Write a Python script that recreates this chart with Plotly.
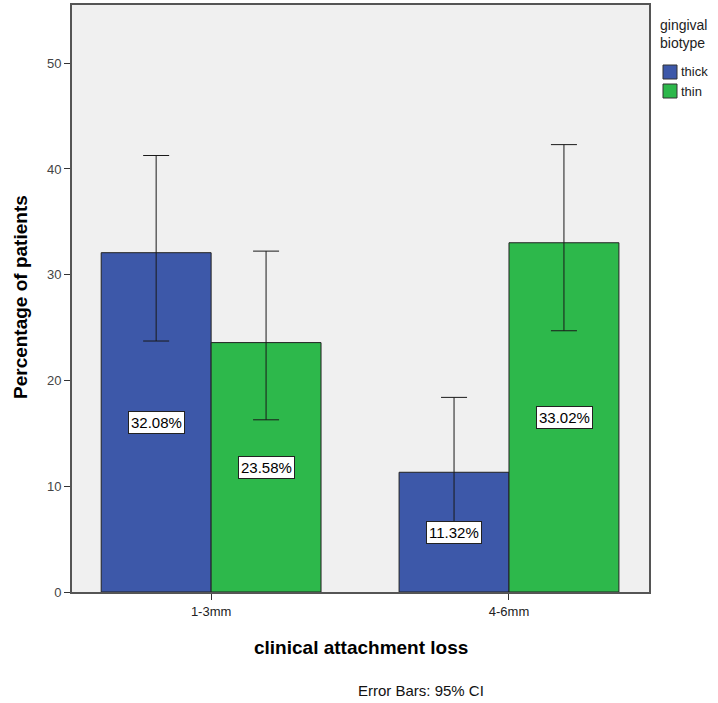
import plotly.graph_objects as go

categories = ["1-3mm", "4-6mm"]
series_names = ["thick", "thin"]
thick_vals = [32.08, 11.32]
thin_vals = [23.58, 33.02]
thick_lo = [23.73, 6.30]
thick_hi = [41.27, 18.40]
thin_lo = [16.28, 24.70]
thin_hi = [32.23, 42.30]
y_ticks = [0, 10, 20, 30, 40, 50]
legend_title = "gingival<br>biotype"

BLUE = "#3D58A9"
GREEN = "#2DB84B"
SANS = "Liberation Sans, Arial, sans-serif"

fig = go.Figure()

def add_series(name, vals, lo, hi, color):
    fig.add_trace(go.Bar(
        x=[0, 1], y=vals, name=name, showlegend=False,
        marker=dict(color=color, line=dict(color="#222222", width=1)),
        error_y=dict(type="data", symmetric=False,
                     array=[h - v for h, v in zip(hi, vals)],
                     arrayminus=[v - l for l, v in zip(lo, vals)],
                     color="#1a1a1a", thickness=1, width=13),
    ))

add_series(series_names[0], thick_vals, thick_lo, thick_hi, BLUE)
add_series(series_names[1], thin_vals, thin_lo, thin_hi, GREEN)

# value labels
offsets = [-0.185, 0.185]
for si, vals in enumerate([thick_vals, thin_vals]):
    for ci, v in enumerate(vals):
        fig.add_annotation(x=ci + offsets[si], y=v / 2, xref="x", yref="y",
                           text=f"{v:.2f}%", showarrow=False,
                           font=dict(family=SANS, size=15, color="black"),
                           bgcolor="white", bordercolor="#222222", borderwidth=1,
                           borderpad=2)

PL, PR, PT, PB = 72, 649, 5, 592
W, H = 718, 703

def px_x(px):
    return (px - PL) / (PR - PL)

def px_y(py):
    return (PB - py) / (PB - PT)

fig.add_annotation(x=px_x(360.5), y=px_y(647), xref="paper", yref="paper",
                   xanchor="center", yanchor="middle",
                   text="<b>clinical attachment loss</b>", showarrow=False,
                   font=dict(family=SANS, size=19, color="black"))
fig.add_annotation(x=px_x(421), y=px_y(690), xref="paper", yref="paper",
                   xanchor="center", yanchor="middle",
                   text="Error Bars: 95% CI", showarrow=False,
                   font=dict(family=SANS, size=15, color="#111"))
fig.add_annotation(x=px_x(20), y=px_y(297), xref="paper", yref="paper",
                   xanchor="center", yanchor="middle", textangle=-90,
                   text="<b>Percentage of patients</b>", showarrow=False,
                   font=dict(family=SANS, size=19, color="black"))

# legend (drawn manually to match placement)
fig.add_annotation(x=px_x(658), y=px_y(15), xref="paper", yref="paper",
                   xanchor="left", yanchor="top", align="left",
                   text=legend_title, showarrow=False,
                   font=dict(family=SANS, size=14, color="#222"))
for i, (nm, col) in enumerate(zip(series_names, [BLUE, GREEN])):
    top = 65 + i * 19
    fig.add_shape(type="rect", xref="paper", yref="paper",
                  x0=px_x(663), x1=px_x(677), y0=px_y(top + 14), y1=px_y(top),
                  fillcolor=col, line=dict(color="#333", width=1))
    fig.add_annotation(x=px_x(679), y=px_y(top + 7), xref="paper", yref="paper",
                       xanchor="left", yanchor="middle", text=nm, showarrow=False,
                       font=dict(family=SANS, size=13, color="#222"))

fig.update_layout(
    width=W, height=H,
    margin=dict(l=PL, r=W - PR, t=PT, b=H - PB, autoexpand=False),
    paper_bgcolor="white", plot_bgcolor="#F0F0F0",
    barmode="group", bargap=0.262, bargroupgap=0,
    font=dict(family=SANS),
)
fig.update_xaxes(range=[-0.467, 1.47], tickvals=[0, 1], ticktext=categories,
                 ticks="outside", ticklen=6, tickcolor="#333", showgrid=False,
                 zeroline=False, showline=True, linecolor="#555", linewidth=2, mirror=True,
                 tickfont=dict(family=SANS, size=13, color="#222"))
fig.update_yaxes(range=[0, 55.5], tickvals=y_ticks, ticks="outside", ticklen=6,
                 tickcolor="#333", showgrid=False, zeroline=False,
                 showline=True, linecolor="#555", linewidth=2, mirror=True,
                 tickfont=dict(family=SANS, size=13, color="#444"))

fig.write_html("out.html", config={"displayModeBar": False},
               post_script="document.body.style.margin='0';")
